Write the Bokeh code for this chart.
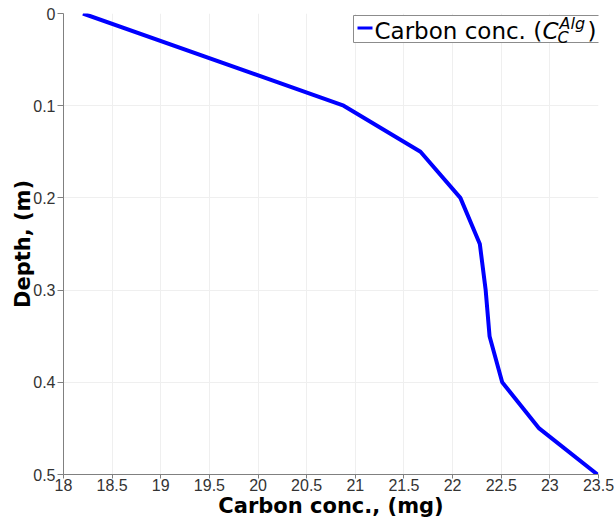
from bokeh.plotting import figure
from bokeh.models import Range1d, FixedTicker, BoxAnnotation, Label
from bokeh.embed import file_html
from bokeh.resources import INLINE

# data
carbon = [18.2, 20.88, 21.67, 22.08, 22.28, 22.34, 22.38, 22.51, 22.89, 23.49]
depth = [0.0, 0.1, 0.15, 0.2, 0.25, 0.3, 0.35, 0.4, 0.45, 0.5]
x_ticks = [18, 18.5, 19, 19.5, 20, 20.5, 21, 21.5, 22, 22.5, 23, 23.5]
x_tick_labels = ["18", "18.5", "19", "19.5", "20", "20.5", "21", "21.5", "22", "22.5", "23", "23.5"]
y_ticks = [0, 0.1, 0.2, 0.3, 0.4, 0.5]
y_tick_labels = ["0", "0.1", "0.2", "0.3", "0.4", "0.5"]

p = figure(width=615, height=520, output_backend="svg", toolbar_location=None,
           x_range=Range1d(18, 23.5), y_range=Range1d(0.5, 0),
           min_border_left=63, min_border_right=17, min_border_top=13, min_border_bottom=40)
p.outline_line_color = None
p.background_fill_color = "white"
p.border_fill_color = "white"

p.line(carbon, depth, line_color="#0000ff", line_width=4)

p.xaxis.ticker = FixedTicker(ticks=x_ticks)
p.yaxis.ticker = FixedTicker(ticks=y_ticks)
p.xaxis.major_label_overrides = {t: l for t, l in zip(x_ticks, x_tick_labels)}
p.yaxis.major_label_overrides = {t: l for t, l in zip(y_ticks, y_tick_labels)}
for ax in (p.xaxis[0], p.yaxis[0]):
    ax.axis_line_color = "#808080"
    ax.major_tick_line_color = "#808080"
    ax.minor_tick_line_color = None
    ax.major_tick_in = 0
    ax.major_label_text_font = "Liberation Sans"
    ax.major_label_text_font_size = "16px"
    ax.major_label_text_color = "#333333"
    ax.axis_label_text_font = "DejaVu Sans"
    ax.axis_label_text_font_style = "bold"
    ax.axis_label_text_font_size = "21px"
    ax.axis_label_text_color = "black"
p.xaxis.major_tick_out = 4
p.yaxis.major_tick_out = 6
p.xaxis.major_label_standoff = 0
p.yaxis.major_label_standoff = 2
p.xaxis.axis_label_standoff = 0
p.yaxis.axis_label_standoff = -5
p.xaxis.axis_label = "Carbon conc., (mg)"
p.yaxis.axis_label = "Depth, (m)"
p.xgrid.ticker = FixedTicker(ticks=x_ticks)
p.ygrid.ticker = FixedTicker(ticks=y_ticks)
p.grid.grid_line_color = "#efefef"

# legend (custom, to typeset C_C^Alg); screen units are relative to the frame
p.add_layout(BoxAnnotation(left=290, right=537, top=459, bottom=432,
                           left_units="screen", right_units="screen",
                           top_units="screen", bottom_units="screen",
                           fill_color="white", fill_alpha=1.0,
                           line_color="#8c8c8c", line_alpha=1.0, line_width=1))
p.add_layout(BoxAnnotation(left=294, right=309, top=448, bottom=445,
                           left_units="screen", right_units="screen",
                           top_units="screen", bottom_units="screen",
                           fill_color="#0000ff", fill_alpha=1.0, line_color=None))
common = dict(x_units="screen", y_units="screen", text_font="DejaVu Sans",
              text_color="black", text_baseline="alphabetic")
p.add_layout(Label(x=311, y=444, text="Carbon conc. (", text_font_size="23px", **common))
p.add_layout(Label(x=479, y=444, text="C", text_font_size="23px", text_font_style="italic", **common))
p.add_layout(Label(x=496, y=451, text="Alg", text_font_size="16px", text_font_style="italic", **common))
p.add_layout(Label(x=494, y=437, text="C", text_font_size="16px", text_font_style="italic", **common))
p.add_layout(Label(x=524, y=444, text=")", text_font_size="23px", **common))

open("out.html", "w").write(file_html(p, INLINE))
